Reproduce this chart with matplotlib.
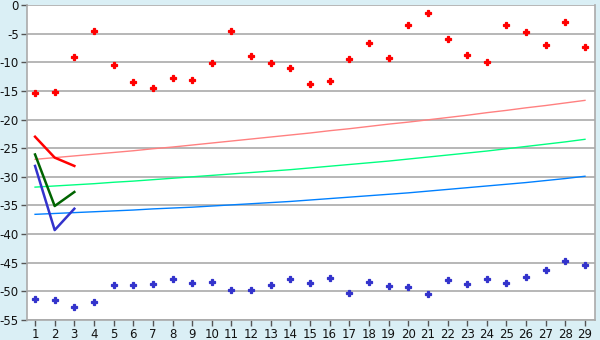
import matplotlib
matplotlib.use("Agg")
import matplotlib.pyplot as plt

x = list(range(1, 30))

red_points = [-15.4, -15.25, -9.1, -4.6, -10.4, -13.5, -14.55, -12.8, -13.15,
              -10.2, -4.6, -8.97, -10.2, -11.06, -13.85, -13.3, -9.5, -6.7, -9.3,
              -3.55, -1.45, -6.0, -8.8, -10.0, -3.55, -4.77, -7.0, -3.0, -7.4]

blue_points = [-51.4, -51.57, -52.8, -51.9, -48.95, -48.95, -48.77, -47.9, -48.6,
               -48.4, -49.8, -49.8, -48.95, -47.9, -48.6, -47.7, -50.35, -48.4, -49.1,
               -49.3, -50.5, -48.07, -48.77, -47.9, -48.6, -47.55, -46.3, -44.75, -45.45]

pink_trend = [-26.95, -26.65, -26.35, -26.05, -25.75, -25.45, -25.1, -24.8, -24.45,
              -24.1, -23.75, -23.4, -23.05, -22.7, -22.35, -21.95, -21.6, -21.2, -20.8,
              -20.45, -20.05, -19.65, -19.25, -18.8, -18.4, -17.95, -17.55, -17.1, -16.65]

green_trend = [-31.8, -31.6, -31.4, -31.2, -30.95, -30.75, -30.5, -30.25, -30.0,
               -29.75, -29.5, -29.25, -29.0, -28.75, -28.45, -28.15, -27.85, -27.55, -27.25,
               -26.9, -26.55, -26.2, -25.85, -25.5, -25.1, -24.7, -24.3, -23.9, -23.45]

blue_trend = [-36.55, -36.4, -36.25, -36.1, -35.95, -35.8, -35.6, -35.45, -35.3,
              -35.1, -34.9, -34.7, -34.5, -34.3, -34.05, -33.8, -33.55, -33.3, -33.05,
              -32.8, -32.5, -32.2, -31.9, -31.6, -31.3, -31.0, -30.65, -30.3, -29.9]

short_x = [1, 2, 3]
red_short = [-23.0, -26.65, -28.1]
green_short = [-26.1, -35.1, -32.65]
blue_short = [-28.1, -39.3, -35.57]

y_ticks = [0, -5, -10, -15, -20, -25, -30, -35, -40, -45, -50, -55]

bg = "#DAEFF5"
fig = plt.figure(figsize=(6, 3.4), dpi=100, facecolor=bg)
ax = fig.add_axes([27/600, 1-320/340, (595-27)/600, (320-5)/340])
ax.set_facecolor("white")

for yt in y_ticks:
    ax.axhline(yt, color="#AAAAAA", lw=1.2, zorder=1)

ax.plot(x, pink_trend, color="#FF8080", lw=1.0, zorder=2)
ax.plot(x, green_trend, color="#00FF80", lw=1.0, zorder=2)
ax.plot(x, blue_trend, color="#0080FF", lw=1.0, zorder=2)

ax.plot(short_x, red_short, color="#FF0000", lw=1.8, zorder=3)
ax.plot(short_x, green_short, color="#006400", lw=1.8, zorder=3)
ax.plot(short_x, blue_short, color="#3333CC", lw=1.8, zorder=3)

ax.plot(x, red_points, linestyle="none", marker="P", markersize=4.6,
        color="#FF0000", markeredgecolor="#FF0000", markeredgewidth=0.9, zorder=4)
ax.plot(x, blue_points, linestyle="none", marker="P", markersize=4.6,
        color="#3333CC", markeredgecolor="#3333CC", markeredgewidth=0.9, zorder=4)

ax.set_xlim(0.59, 29.51)
ax.set_ylim(-55, 0)
ax.set_xticks(x)
ax.set_xticklabels([str(v) for v in x])
ax.set_yticks(y_ticks)
ax.set_yticklabels([str(v) for v in y_ticks])

for s in ["left", "bottom", "right"]:
    ax.spines[s].set_color("#AAAAAA")
    ax.spines[s].set_linewidth(1.2)
ax.spines["top"].set_visible(False)

ax.tick_params(axis="both", direction="out", length=4, width=1, color="#555555",
               labelsize=8.5, labelcolor="#111111", pad=2)

fig.savefig("out.png", dpi=100, facecolor=bg)
